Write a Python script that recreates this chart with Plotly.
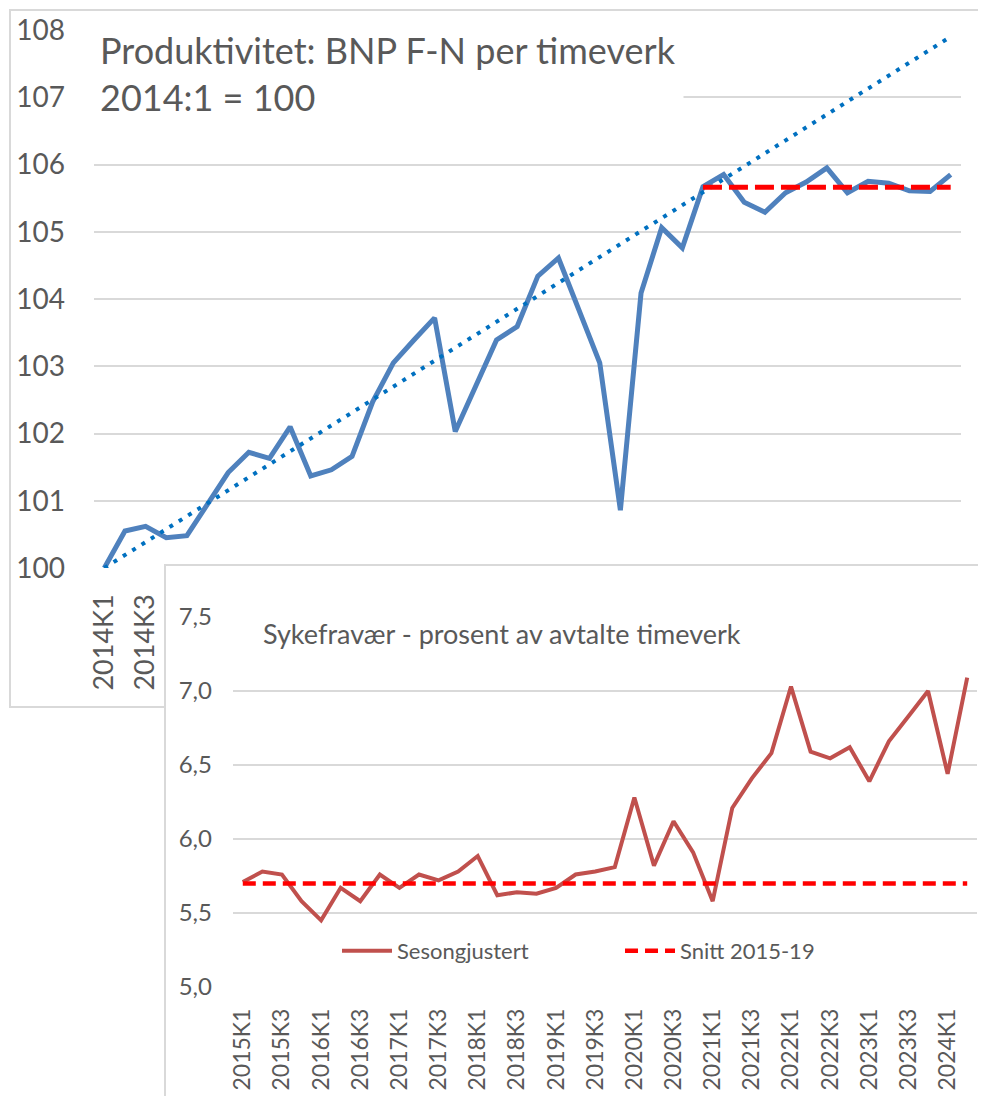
import plotly.graph_objects as go

W, H = 986, 1096
OFF = 8  # the page body adds an 8px margin; coordinates below are page pixels


def px_x(p):
    return (p - OFF) / W


def px_y(p):
    return 1 - (p - OFF) / H


# ---------------- data ----------------
quarters_top = [f"{y}K{q}" for y in range(2014, 2025) for q in range(1, 5)][:42]  # 2014K1..2024K2
quarters_bot = quarters_top[4:]  # 2015K1..2024K2

produktivitet = [100.00, 100.55, 100.62, 100.45, 100.48, 100.96, 101.42, 101.72, 101.63, 102.10,
                 101.37, 101.46, 101.66, 102.47, 103.05, 103.39, 103.72, 102.03, 102.70, 103.39,
                 103.59, 104.34, 104.61, 103.82, 103.05, 100.86, 104.09, 105.06, 104.76, 105.67,
                 105.85, 105.44, 105.29, 105.58, 105.74, 105.95, 105.58, 105.75, 105.72, 105.61,
                 105.60, 105.85]

trend_x = ["2014K1", "2024K2"]
trend_y = [100.0, 107.9]

snitt_top_x = ["2021K2", "2024K2"]
snitt_top_y = [105.66, 105.66]

sykefravaer = [5.71, 5.78, 5.76, 5.58, 5.45, 5.67, 5.58, 5.76, 5.67, 5.76,
               5.72, 5.78, 5.885, 5.62, 5.64, 5.63, 5.67, 5.76, 5.78, 5.81,
               6.28, 5.82, 6.12, 5.91, 5.58, 6.21, 6.41, 6.58, 7.03, 6.59,
               6.545, 6.62, 6.39, 6.66, 6.83, 7.00, 6.44, 7.09]

snitt_bot_x = ["2015K1", "2024K2"]
snitt_bot_y = [5.70, 5.70]

top_yticks = [100, 101, 102, 103, 104, 105, 106, 107, 108]
bot_yticks = [5.0, 5.5, 6.0, 6.5, 7.0, 7.5]
bot_yticktext = ["5,0", "5,5", "6,0", "6,5", "7,0", "7,5"]

TEXT = "#595959"
GRID = "#D9D9D9"

fig = go.Figure()

# top chart
fig.add_trace(go.Scatter(x=quarters_top, y=produktivitet, mode="lines",
                         line=dict(color="#4F81BD", width=5),
                         xaxis="x", yaxis="y", showlegend=False))
fig.add_trace(go.Scatter(x=trend_x, y=trend_y, mode="lines",
                         line=dict(color="#0070C0", width=4, dash="4px,7px"),
                         xaxis="x", yaxis="y", showlegend=False))
fig.add_trace(go.Scatter(x=snitt_top_x, y=snitt_top_y, mode="lines",
                         line=dict(color="#FF0000", width=5, dash="19px,7px"),
                         xaxis="x", yaxis="y", showlegend=False))

# cover panel for inset
fig.add_trace(go.Scatter(x=[], y=[], xaxis="x2", yaxis="y2", showlegend=False,
                         hoverinfo="skip"))

# inset chart
fig.add_trace(go.Scatter(x=quarters_bot, y=sykefravaer, mode="lines", name="Sesongjustert",
                         line=dict(color="#C0504D", width=4),
                         xaxis="x3", yaxis="y3", legend="legend"))
fig.add_trace(go.Scatter(x=snitt_bot_x, y=snitt_bot_y, mode="lines", name="Snitt 2015-19",
                         line=dict(color="#FF0000", width=4.5, dash="13px,7px"),
                         xaxis="x3", yaxis="y3", legend="legend2"))

fig.update_layout(
    width=W, height=H,
    margin=dict(l=0, r=0, t=0, b=0, autoexpand=False),
    paper_bgcolor="white", plot_bgcolor="white",
    font=dict(family="Lato", color=TEXT),
    xaxis=dict(domain=[px_x(94), px_x(961)], anchor="y", type="category",
               range=[-0.5, 41.5], tickmode="array", tickvals=quarters_top[::2],
               tickangle=-90, tickfont=dict(size=27, color=TEXT),
               showgrid=False, zeroline=False, showline=False, ticks="",
               ticklabelstandoff=20, automargin=False),
    yaxis=dict(domain=[px_y(568), px_y(30)], anchor="x", range=[100, 108],
               tickmode="array", tickvals=top_yticks,
               tickfont=dict(size=28, color=TEXT),
               showgrid=True, gridcolor=GRID, gridwidth=2, zeroline=False,
               showline=False, ticks="", ticklabelstandoff=28, automargin=False),
    xaxis2=dict(domain=[px_x(166), 1], anchor="y2", range=[0, 1], side="top",
                showgrid=False, zeroline=False, showticklabels=False,
                showline=True, linecolor=GRID, linewidth=2, ticks="", automargin=False),
    yaxis2=dict(domain=[0, px_y(566)], anchor="x2", range=[0, 1],
                showgrid=False, zeroline=False, showticklabels=False,
                showline=True, linecolor=GRID, linewidth=2, ticks="", automargin=False),
    xaxis3=dict(domain=[px_x(233), px_x(977)], anchor="y3", type="category",
                range=[-0.5, 37.5], tickmode="array", tickvals=quarters_bot[::2],
                tickangle=-90, tickfont=dict(size=23, color=TEXT),
                showgrid=False, zeroline=False, showline=False, ticks="",
                ticklabelstandoff=16, automargin=False),
    yaxis3=dict(domain=[px_y(987), px_y(617)], anchor="x3", range=[5, 7.5],
                tickmode="array", tickvals=bot_yticks, ticktext=bot_yticktext,
                tickfont=dict(size=24, color=TEXT),
                showgrid=True, gridcolor=GRID, gridwidth=2, zeroline=False,
                showline=False, ticks="", ticklabelstandoff=20, automargin=False),
    legend=dict(orientation="h", x=px_x(337), y=px_y(951), xanchor="left", yanchor="middle",
                font=dict(size=22, color=TEXT), itemwidth=50, bgcolor="rgba(0,0,0,0)"),
    legend2=dict(orientation="h", x=px_x(620), y=px_y(951), xanchor="left", yanchor="middle",
                 font=dict(size=22, color=TEXT), itemwidth=50, bgcolor="rgba(0,0,0,0)"),
    shapes=[dict(type="rect", xref="paper", yref="paper", x0=px_x(10), x1=1.05,
                 y0=px_y(707), y1=px_y(10), line=dict(color=GRID, width=2),
                 fillcolor="rgba(0,0,0,0)", layer="below")],
    annotations=[
        dict(text="Produktivitet: BNP F-N per timeverk<br>2014:1 = 100",
             xref="paper", yref="paper", x=px_x(92), y=px_y(20),
             xanchor="left", yanchor="top", align="left", showarrow=False,
             bgcolor="white", borderpad=7, font=dict(size=36, color=TEXT)),
        dict(text="Sykefravær - prosent av avtalte timeverk",
             xref="paper", yref="paper", x=px_x(257), y=px_y(633),
             xanchor="left", yanchor="middle", align="left", showarrow=False,
             bgcolor="white", borderpad=5, font=dict(size=27, color=TEXT)),
    ],
)

fig.write_html("out.html")
